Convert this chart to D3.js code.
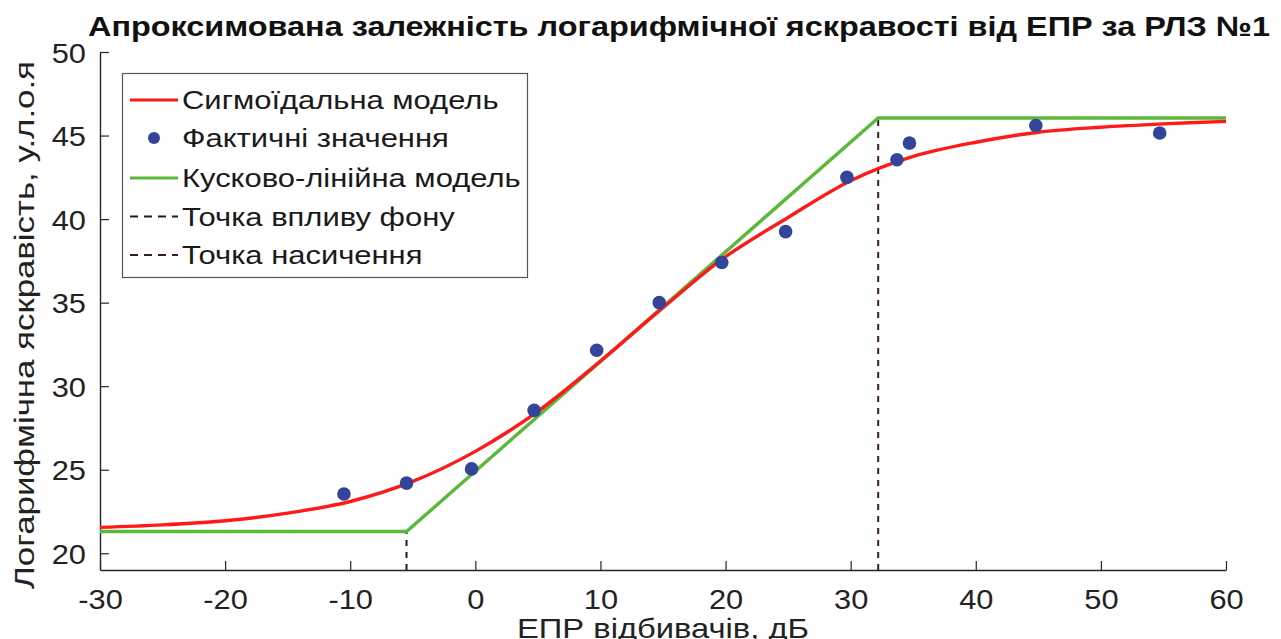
<!DOCTYPE html>
<html>
<head>
<meta charset="utf-8">
<script src="https://cdn.jsdelivr.net/npm/d3@7"></script>
<style>
  html, body { margin: 0; padding: 0; background: #fff; }
  svg { display: block; font-family: "Liberation Sans", Arial, sans-serif; }
</style>
</head>
<body>
<svg id="chart" width="1281" height="639"></svg>
<script>
// Measured points: ЕПР (dB) and logarithmic brightness
const measuredX = [-10.5, -5.5, -0.3, 4.7, 9.7, 14.7, 19.7, 24.8, 29.7, 33.7, 34.7, 44.8, 54.7];
const measuredY = [23.55, 24.2, 25.05, 28.55, 32.15, 35.0, 37.4, 39.25, 42.5, 43.55, 44.55, 45.6, 45.15];

// Sigmoid model curve, sampled every 5 dB
const sigmoidX = [-30, -25, -20, -15, -10, -5, 0, 5, 10, 15, 20, 25, 30, 35, 40, 45, 50, 55, 60];
const sigmoidY = [21.55, 21.7, 21.95, 22.4, 23.1, 24.3, 26.1, 28.5, 31.5, 34.7, 37.75, 40.1, 42.3, 43.75, 44.6, 45.2, 45.5, 45.7, 45.85];

// Piecewise-linear model: breakpoints
const pieceX = [-30, -5.5, 32.2, 60];
const pieceY = [21.3, 21.3, 46.05, 46.05];

// Background-influence point and saturation point
const bgPoint = { x: -5.5, y: 21.3 };
const satPoint = { x: 32.2, y: 46.05 };

const xTicks = [-30, -20, -10, 0, 10, 20, 30, 40, 50, 60];
const yTicks = [20, 25, 30, 35, 40, 45, 50];

const legendLabels = [
  "Сигмоїдальна модель",
  "Фактичні значення",
  "Кусково-лінійна модель",
  "Точка впливу фону",
  "Точка насичення"
];

const titleText = "Апроксимована залежність логарифмічної яскравості від ЕПР за РЛЗ №1";
const xLabel = "ЕПР відбивачів, дБ";
const yLabel = "Логарифмічна яскравість, у.л.о.я";

const svg = d3.select("#chart");
const plot = { left: 100, right: 1226, top: 52, bottom: 570 };

const x = d3.scaleLinear().domain([-30, 60]).range([plot.left, plot.right]);
const y = d3.scaleLinear().domain([19, 50]).range([plot.bottom, plot.top]);

const axisColor = "#262626";
const redC = "#ff1a1a";
const greenC = "#5cb83a";
const dotC = "#33449a";

// Widen a text element horizontally by a factor (wide sans lettering)
function widen(sel, factor) {
  sel.each(function () {
    const len = this.getComputedTextLength();
    d3.select(this).attr("textLength", len * factor).attr("lengthAdjust", "spacingAndGlyphs");
  });
}

// Axes (ticks point inward)
const fmt = d => String(d);
const gx = svg.append("g")
  .attr("transform", `translate(0,${plot.bottom})`)
  .call(d3.axisBottom(x).tickValues(xTicks).tickFormat(fmt).tickSize(-9).tickPadding(22).tickSizeOuter(0));
const gy = svg.append("g")
  .attr("transform", `translate(${plot.left},0)`)
  .call(d3.axisLeft(y).tickValues(yTicks).tickFormat(fmt).tickSize(-9).tickPadding(14).tickSizeOuter(0));

[gx, gy].forEach(g => {
  g.select(".domain").attr("stroke", axisColor).attr("stroke-width", 1.4);
  g.selectAll(".tick line").attr("stroke", axisColor).attr("stroke-width", 1.2);
  g.selectAll(".tick text").attr("fill", "#222").attr("font-size", 28)
    .attr("font-family", "Liberation Sans, Arial, sans-serif");
  widen(g.selectAll(".tick text"), 1.1);
});
gy.selectAll(".tick text").attr("dy", "0.36em");
gx.selectAll(".tick text").attr("dy", "0.62em");

// Dashed marker lines
svg.append("line")
  .attr("x1", x(bgPoint.x)).attr("x2", x(bgPoint.x))
  .attr("y1", y(19)).attr("y2", y(bgPoint.y))
  .attr("stroke", "#1c1c30").attr("stroke-width", 2).attr("stroke-dasharray", "6,6");
svg.append("line")
  .attr("x1", x(satPoint.x)).attr("x2", x(satPoint.x))
  .attr("y1", y(19)).attr("y2", y(satPoint.y))
  .attr("stroke", "#3a1c24").attr("stroke-width", 2).attr("stroke-dasharray", "6,6");

// Piecewise-linear model
svg.append("path")
  .datum(pieceX.map((v, i) => [v, pieceY[i]]))
  .attr("fill", "none").attr("stroke", greenC).attr("stroke-width", 3.4)
  .attr("d", d3.line().x(d => x(d[0])).y(d => y(d[1])));

// Sigmoid model
svg.append("path")
  .datum(sigmoidX.map((v, i) => [v, sigmoidY[i]]))
  .attr("fill", "none").attr("stroke", redC).attr("stroke-width", 3.4)
  .attr("d", d3.line().x(d => x(d[0])).y(d => y(d[1])).curve(d3.curveCatmullRom));

// Measured values
svg.append("g").selectAll("circle")
  .data(measuredX.map((v, i) => [v, measuredY[i]]))
  .join("circle")
  .attr("cx", d => x(d[0])).attr("cy", d => y(d[1])).attr("r", 6.8)
  .attr("fill", dotC);

// Legend
const lg = svg.append("g");
lg.append("rect").attr("x", 122.5).attr("y", 73.5).attr("width", 405).attr("height", 204)
  .attr("fill", "#fff").attr("stroke", "#555").attr("stroke-width", 1.2);
const rowY = [100, 138, 178, 216.5, 255];
const sx1 = 130, sx2 = 178, tx = 182;
legendLabels.forEach((lab, i) => {
  const yy = rowY[i];
  if (i === 0 || i === 2) {
    lg.append("line").attr("x1", sx1).attr("x2", sx2).attr("y1", yy).attr("y2", yy)
      .attr("stroke", i === 0 ? redC : greenC).attr("stroke-width", 3);
  } else if (i === 1) {
    lg.append("circle").attr("cx", (sx1 + sx2) / 2).attr("cy", yy).attr("r", 6).attr("fill", dotC);
  } else {
    lg.append("line").attr("x1", sx1).attr("x2", sx2).attr("y1", yy).attr("y2", yy)
      .attr("stroke", i === 3 ? "#1c1c30" : "#3a1c24").attr("stroke-width", 2)
      .attr("stroke-dasharray", "8,6");
  }
  const t = lg.append("text").attr("x", tx).attr("y", yy).attr("dy", "0.36em")
    .attr("font-size", 26).attr("fill", "#1a1a1a").text(lab);
  widen(t, 1.19);
});

// Title
svg.append("text").attr("x", 88).attr("y", 36)
  .attr("font-size", 28).attr("font-weight", "bold").attr("fill", "#111")
  .attr("textLength", 1182).attr("lengthAdjust", "spacingAndGlyphs")
  .text(titleText);

// Axis labels
svg.append("text").attr("x", 663).attr("y", 638)
  .attr("text-anchor", "middle").attr("font-size", 28).attr("fill", "#222")
  .attr("textLength", 292).attr("lengthAdjust", "spacingAndGlyphs")
  .text(xLabel);
svg.append("text")
  .attr("transform", `translate(34,325) rotate(-90)`)
  .attr("text-anchor", "middle").attr("font-size", 28).attr("fill", "#222")
  .attr("textLength", 528).attr("lengthAdjust", "spacingAndGlyphs")
  .text(yLabel);
</script>
</body>
</html>
